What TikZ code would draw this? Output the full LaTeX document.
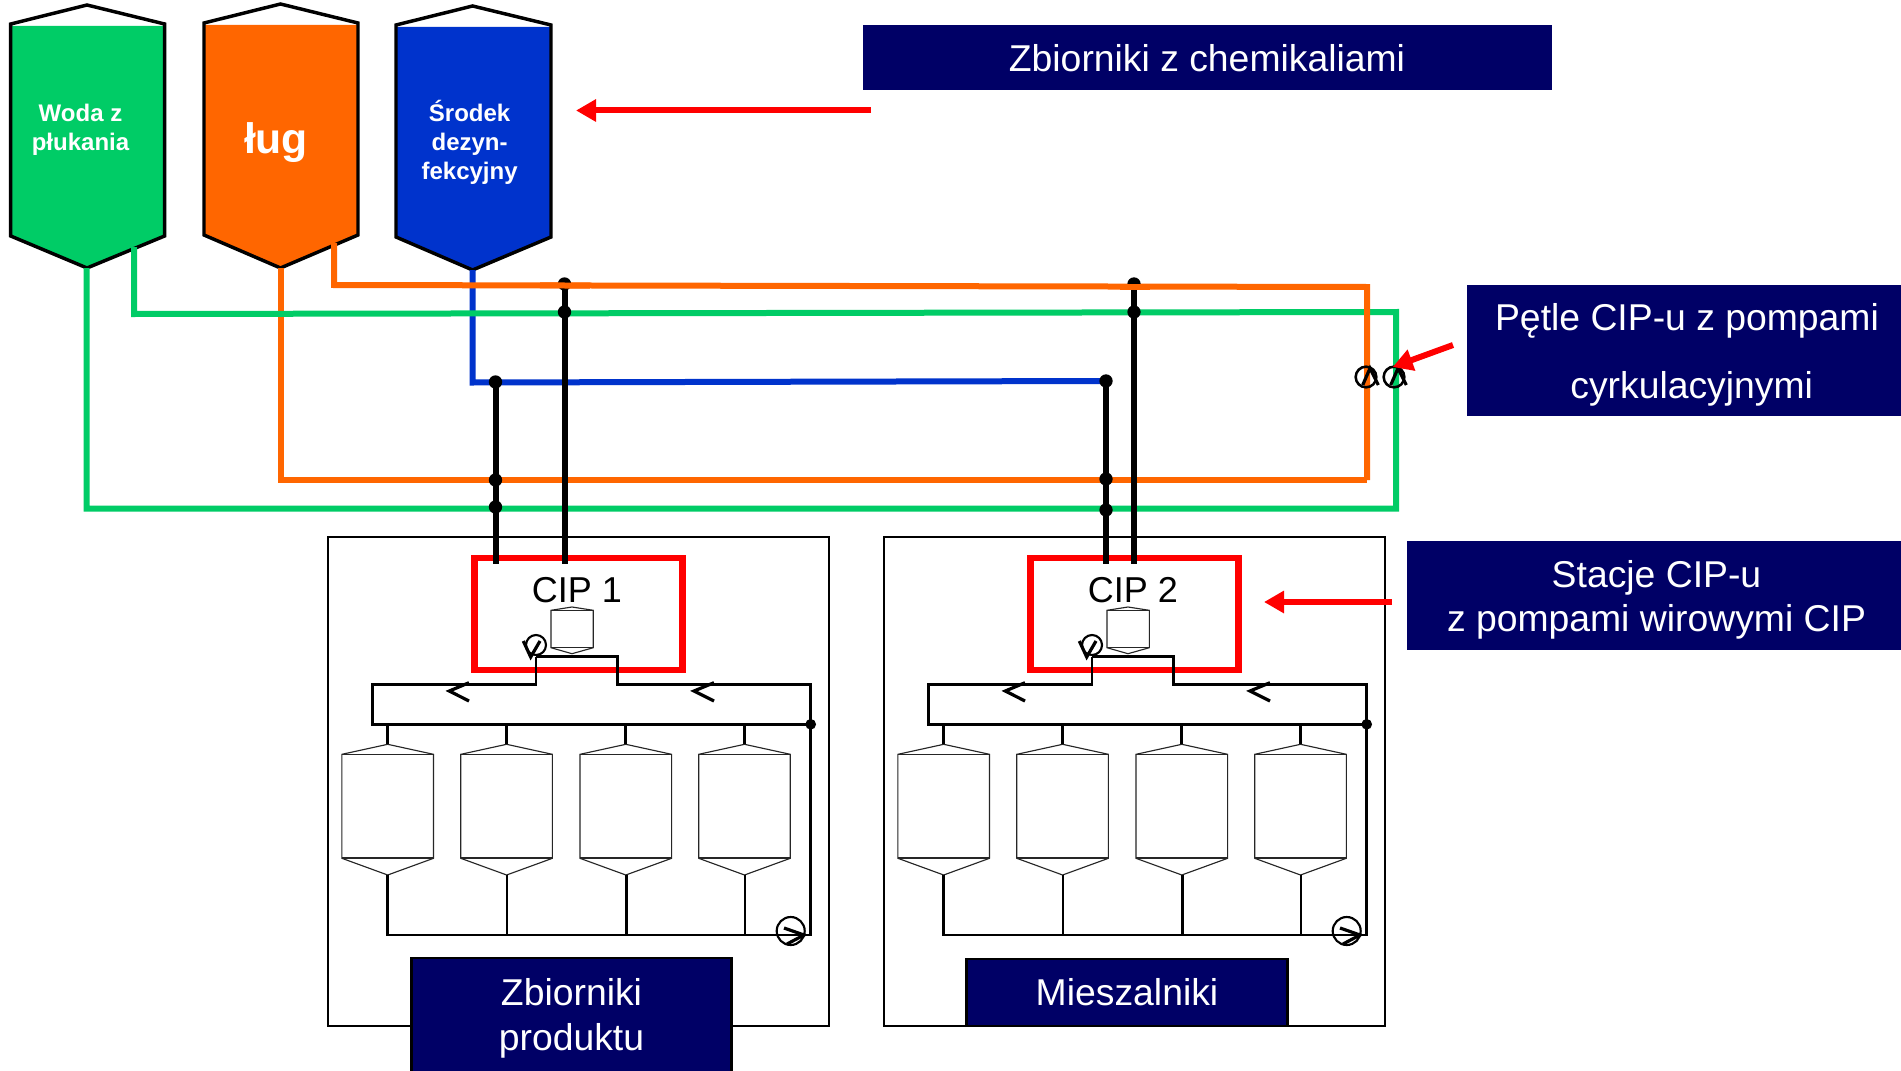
\documentclass[tikz,border=0pt]{standalone}
\usepackage{fontspec}
\setmainfont{Liberation Sans}
\usetikzlibrary{arrows.meta,calc}
\definecolor{navy}{HTML}{000066}
\definecolor{cipgreen}{HTML}{00CC66}
\definecolor{ciporange}{HTML}{FF6600}
\definecolor{cipblue}{HTML}{0033CC}
\tikzset{
  x=0.75pt,y=-0.75pt,
  tankline/.style={draw=black,line width=2.6pt,line join=miter},
  pipecol/.style={line width=4.5pt,line cap=butt,line join=miter},
  blackpipe/.style={draw=black,line width=4.5pt},
  thinpipe/.style={draw=black,line width=2pt,line join=miter},
  vessel/.style={draw=black!85,line width=0.85pt,fill=white},
  dotnode/.style={circle,fill=black,inner sep=0pt,minimum size=10pt},
  smalldot/.style={circle,fill=black,inner sep=0pt,minimum size=7pt},
  callout/.style={fill=navy,inner sep=0pt},
  callouttext/.style={text=white,inner sep=0pt,align=center},
  redarrow/.style={draw=red,line width=4.5pt,-{Triangle[length=15pt,width=16pt]}},
  tanklabel/.style={text=white,align=center,inner sep=0pt,font=\fontsize{18}{22}\selectfont\bfseries},
  flowmark/.style={draw=black,line width=2.4pt,line join=miter},
  pumpring/.style={circle,draw=black,line width=1.6pt,fill=none,inner sep=0pt},
}
\newcommand{\siloshape}[8]{% name, left, right, apexx, apexy, shoulder, lower, tip ; colour via \silocol
  \fill[\silocol] (#2,#6+2) -- (#3,#6+2) -- (#3,#7) -- (#4,#8) -- (#2,#7) -- cycle;
  \draw[tankline] (#2,#7) -- (#2,#6) -- (#4,#5) -- (#3,#6) -- (#3,#7) -- (#4,#8) -- cycle;
  \coordinate (#1tip) at (#4,#8);
}
\newcommand{\station}[3]{% id, shift, CIP label
\begin{scope}[xshift=#2,yshift=-0.75pt]
  \node[draw=black,line width=1.8pt,inner sep=0pt,minimum width=375.75pt,minimum height=366.75pt] (outer#1) at (578.2,780.5) {};
  \node[draw=red,line width=5.2pt,inner sep=0pt,minimum width=156.5pt,minimum height=84pt] (red#1) at (578.4,613) {};
  \node[inner sep=0pt,font=\fontsize{27}{30}\selectfont] (ciplabel#1) at (577,589.5) {CIP #3};
  % small vessel
  \draw[vessel] (551,609.3) -- (572,606) -- (593.3,609.3) -- (593.3,646.7) -- (572,652.7) -- (551,646.7) -- cycle;
  \draw[vessel] (551,609.3) -- (593.3,609.3) (551,646.7) -- (593.3,646.7);
  % large vessels
  \foreach \n/\c/\b in {a/387.7/387.7,b/506.6/507,c/625.8/626.5,d/744.5/745}{
    \draw[vessel] (\c-45.8,753.3) -- (\c,743.3) -- (\c+45.8,753.3) -- (\c+45.8,857.3) -- (\c,874) -- (\c-45.8,857.3) -- cycle;
    \draw[vessel] (\c-45.8,753.3) -- (\c+45.8,753.3);
    \draw[vessel,line width=1.3pt] (\c-45.8,857.3) -- (\c+45.8,857.3);
    \coordinate (top\n#1) at (\c,743.3);
    \coordinate (bot\n#1) at (\b,874);
  }
  % pipe corners
  \coordinate (vb#1) at (536,655.5);
  \coordinate (vc#1) at (536,683.3);
  \coordinate (hl#1) at (372.7,683.3);
  \coordinate (ll#1) at (372.7,723.3);
  \coordinate (lr#1) at (810.7,723.3);
  \coordinate (hr#1) at (810.7,683.3);
  \coordinate (sr#1) at (617.7,683.3);
  \coordinate (st#1) at (617.7,655.5);
  \coordinate (br#1) at (810.7,934);
  \coordinate (bl#1) at (387.7,934);
  \draw[thinpipe] (vb#1) -- (vc#1) -- (hl#1) -- (ll#1) -- (lr#1);
  \draw[thinpipe] (vb#1) -- (st#1) -- (sr#1) -- (hr#1) -- (br#1) -- (bl#1) -- (bota#1);
  \foreach \n in {a,b,c,d}{
    \draw[thinpipe] (ll#1 -| top\n#1) -- (top\n#1);
    \draw[thinpipe] (bot\n#1) -- (bl#1 -| bot\n#1);
  }
  \node[smalldot,minimum size=8pt] (dotr#1) at (lr#1) {};
  % valve
  \node[pumpring,minimum size=15pt] (valve#1) at (536,644) {};
  \draw[flowmark] (523.3,640) -- (530.7,656) -- (540,640);
  % chevrons
  \draw[flowmark] (469,681.7) -- (449.3,690) -- (469,700);
  \draw[flowmark] (714,681.7) -- (694,690) -- (714,700);
  % pump
  \node[pumpring,minimum size=21pt] (pump#1) at (790.7,930) {};
  \draw[flowmark] (784,927) -- (804,934) -- (787,943);
\end{scope}
}
\begin{document}
\begin{tikzpicture}
\fill[white] (0,0) rectangle (1901,1070);
\useasboundingbox (0,0) rectangle (1901,1070);

% chemical tanks
\def\silocol{cipgreen}\siloshape{tw}{10.7}{164.6}{87}{5}{24}{236}{268}
\def\silocol{ciporange}\siloshape{to}{204}{358}{280.5}{4}{23}{235}{268}
\def\silocol{cipblue}\siloshape{tb}{396}{551}{472.6}{6}{25}{237}{270}
\node[tanklabel] (wlabel) at (80.5,130) {Woda z\\płukania};
\node[tanklabel,font=\fontsize{32}{36}\selectfont\bfseries] (olabel) at (276,142.5) {ług};
\node[tanklabel] (blabel) at (469.6,142.5) {Środek\\dezyn-\\fekcyjny};

% stations
\station{A}{0pt}{1}
\station{B}{417pt}{2}

% corners
\coordinate (tw2) at (134,247);
\coordinate (to2) at (334,243);
\coordinate (gBL) at (86.5,508.5);
\coordinate (gBR) at (1396,508.5);
\coordinate (gTR) at (1396,312);
\coordinate (gTL) at (134,314);
\coordinate (oBL) at (281,480);
\coordinate (oBR) at (1367,480);
\coordinate (oTR) at (1367,287);
\coordinate (oTL) at (334,285);
\coordinate (bBL) at (472.6,382.5);
\coordinate (bBR) at (1106,381);
\coordinate (bot1) at (495.5,564);
\coordinate (bot2) at (564.5,564);
\coordinate (bot3) at (1106,564);
\coordinate (bot4) at (1134,564);
\coordinate (top1) at (495.5,382);
\coordinate (top2) at (564.5,282);
\coordinate (top3) at (1106,381);
\coordinate (top4) at (1134,282);

% coloured loops
\draw[pipecol,cipblue] (tbtip) -- (bBL) -- (bBR);
\draw[pipecol,ciporange] (281,268) -- (oBL) -- (oBR);
\draw[pipecol,cipgreen] (86.5,268) -- (gBL) -- (gBR) -- (gTR) -- (gTL) -- (tw2);
\draw[pipecol,ciporange] (oBR) -- (oTR) -- (oTL) -- (to2);

% black risers
\draw[blackpipe] (top1) -- (bot1);
\draw[blackpipe] (top2) -- (bot2);
\draw[blackpipe] (top3) -- (bot3);
\draw[blackpipe] (top4) -- (bot4);
\foreach \n/\x/\y in {a/495.5/382,b/495.5/480,c/495.5/507,d/564.5/312,e/564.5/284,f/1106/381,g/1106/479,h/1106/510,i/1134/312,j/1134/284}{
  \node[dotnode] (jn\n) at (\x,\y) {};
}
\draw[pipecol,ciporange] (540,285.4) -- (590,285.6);
\draw[pipecol,ciporange] (1120,286.6) -- (1150,286.6);

% loop pumps
\node[pumpring,minimum size=15.5pt,line width=1.9pt] (pl) at (1366,377) {};
\node[pumpring,minimum size=15.5pt,line width=1.9pt] (pr) at (1394,377) {};
\draw[flowmark] (1362.7,385) -- (1370,368.3) -- (1378.3,385);
\draw[flowmark] (1390.7,385) -- (1398,368.3) -- (1406.3,385);

% callouts
\node[callout,minimum width=516.75pt,minimum height=48.75pt] (c1) at (1207.5,57.5) {};
\node[callouttext,font=\fontsize{28}{34}\selectfont] (t1) at (1207,58.5) {Zbiorniki z chemikaliami};
\node[callout,minimum width=325.5pt,minimum height=98.25pt] (c2) at (1684,350.5) {};
\node[callouttext,font=\fontsize{28}{50.5}\selectfont] (t2) at (1687,355) {Pętle CIP-u z pompami\\\hspace*{7pt}cyrkulacyjnymi};
\node[callout,minimum width=370.5pt,minimum height=81.75pt] (c3) at (1654,595.5) {};
\node[callouttext,font=\fontsize{28}{33}\selectfont] (t3) at (1656.5,600) {Stacje CIP-u\\z pompami wirowymi CIP};
\node[callout,draw=black,line width=1.8pt,minimum width=240pt,minimum height=90pt] (c4) at (571.5,1018) {};
\node[callouttext,font=\fontsize{28}{33.75}\selectfont] (t4) at (571.5,1018) {Zbiorniki\\produktu};
\node[callout,draw=black,line width=1.8pt,minimum width=240.5pt,minimum height=50pt] (c5) at (1127,992.5) {};
\node[callouttext,font=\fontsize{28}{34}\selectfont] (t5) at (1127,992.5) {Mieszalniki};

% red arrows
\coordinate (a1s) at (871,110.5);
\coordinate (a1e) at (576,110.5);
\coordinate (a2s) at (1453,345);
\coordinate (a2e) at (1392.7,367);
\coordinate (a3s) at (1391.7,602);
\coordinate (a3e) at (1264,602);
\draw[redarrow] (a1s) -- (a1e);
\draw[redarrow] (a2s) -- (a2e);
\draw[redarrow] (a3s) -- (a3e);
\end{tikzpicture}
\end{document}
